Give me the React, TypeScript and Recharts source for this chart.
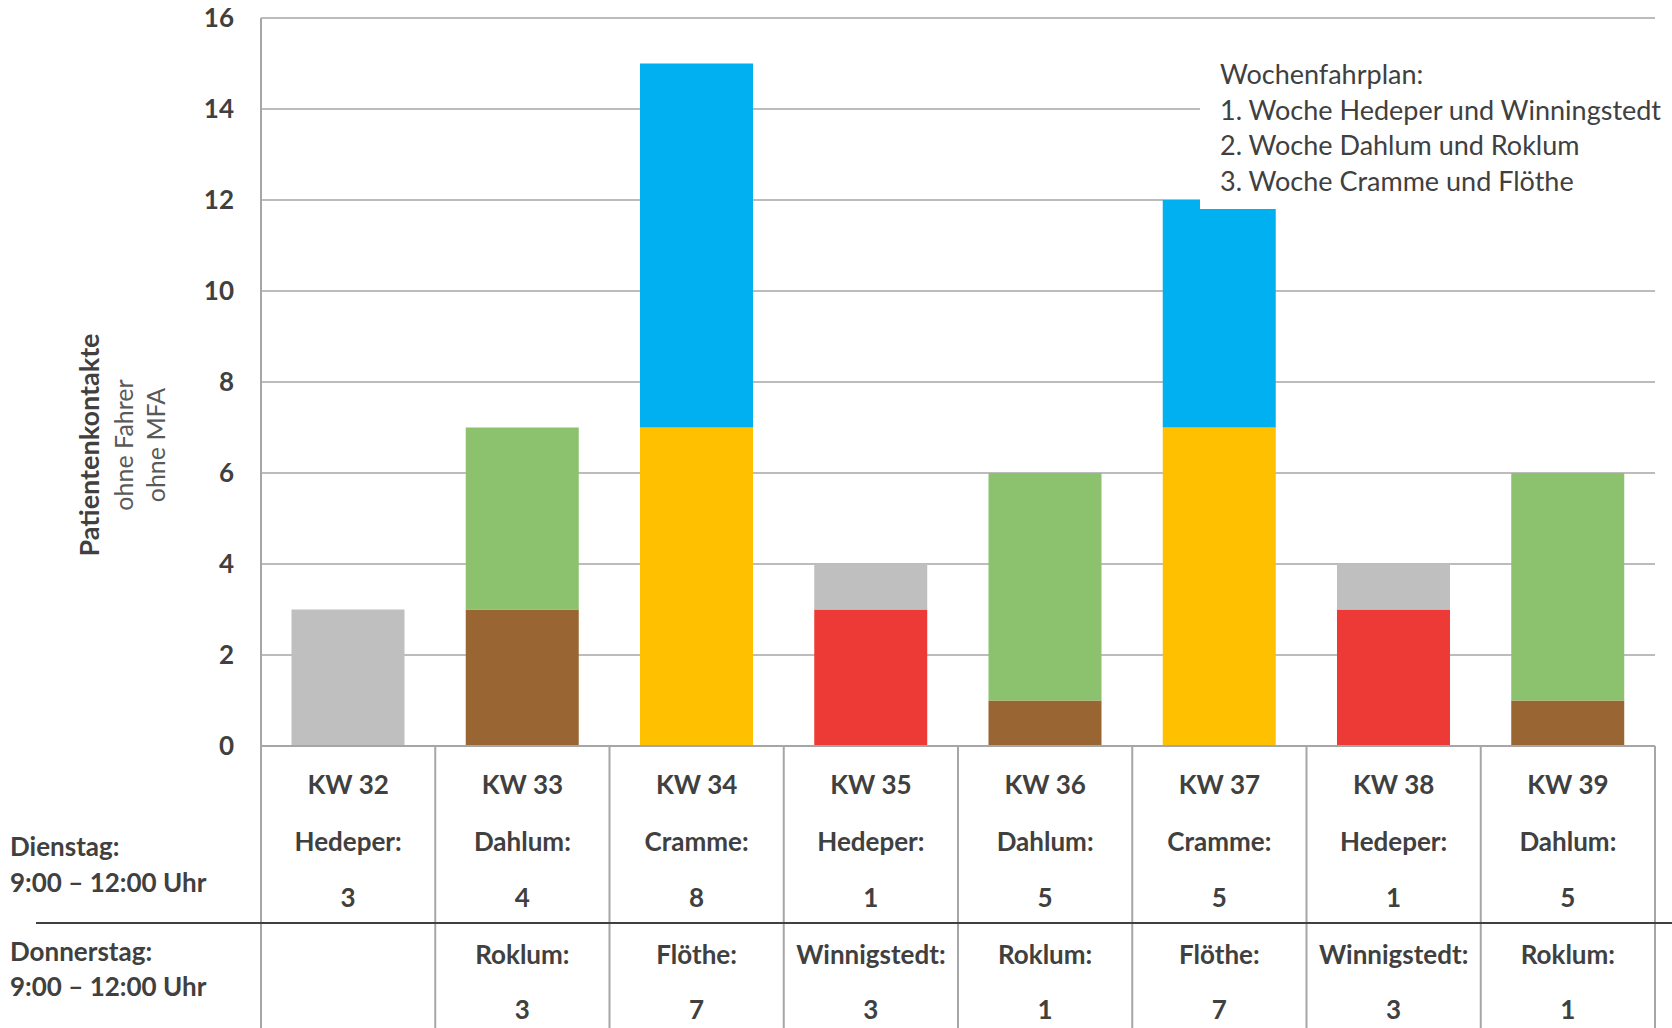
import { BarChart, Bar, XAxis, YAxis, CartesianGrid, Cell } from 'recharts'

const weeks = ['KW 32', 'KW 33', 'KW 34', 'KW 35', 'KW 36', 'KW 37', 'KW 38', 'KW 39']
const tuesdayTowns = ['Hedeper', 'Dahlum', 'Cramme', 'Hedeper', 'Dahlum', 'Cramme', 'Hedeper', 'Dahlum']
const tuesdayCounts = [3, 4, 8, 1, 5, 5, 1, 5]
const thursdayTowns = ['', 'Roklum', 'Flöthe', 'Winnigstedt', 'Roklum', 'Flöthe', 'Winnigstedt', 'Roklum']
const thursdayCounts = [0, 3, 7, 3, 1, 7, 3, 1]
const yTicks = [0, 2, 4, 6, 8, 10, 12, 14, 16]
const planLines = [
  'Wochenfahrplan:',
  '1. Woche Hedeper und Winningstedt',
  '2. Woche Dahlum und Roklum',
  '3. Woche Cramme und Flöthe',
]

const townColors: Record<string, string> = {
  Hedeper: '#BFBFBF',
  Winnigstedt: '#EE3A36',
  Dahlum: '#8CC26E',
  Roklum: '#996633',
  Cramme: '#00B0F0',
  Flöthe: '#FFC000',
}

const W = 1672
const H = 1028
const MARGIN = { top: 18, right: 17, left: 0, bottom: 0 }
const Y_AXIS_W = 261
const X_AXIS_H = 282
const BAND = (W - Y_AXIS_W - MARGIN.right) / weeks.length
const GRID = '#A6A6A6'
const TEXT = '#404040'
const FONT = 'Lato, "Open Sans", sans-serif'

const data = weeks.map((week, i) => ({
  week,
  thursday: thursdayCounts[i],
  tuesday: tuesdayCounts[i],
}))

const bold = { fontFamily: FONT, fontWeight: 700, fontSize: 26, fill: TEXT }

// table cell under each bar: week, tuesday town/count, thursday town/count
function WeekCell(props: any) {
  const { x, y, payload } = props
  const i = payload.index ?? weeks.indexOf(payload.value)
  const half = BAND / 2
  return (
    <g>
      <line x1={x - half} x2={x - half} y1={y} y2={H} stroke={GRID} strokeWidth={2} />
      {i === weeks.length - 1 && (
        <line x1={x + half} x2={x + half} y1={y} y2={H} stroke={GRID} strokeWidth={2} />
      )}
      <text x={x} y={y + 48} textAnchor="middle" {...bold}>{weeks[i]}</text>
      <text x={x} y={y + 105} textAnchor="middle" {...bold}>{tuesdayTowns[i]}:</text>
      <text x={x} y={y + 161} textAnchor="middle" {...bold}>{tuesdayCounts[i]}</text>
      {thursdayTowns[i] && (
        <>
          <text x={x} y={y + 218} textAnchor="middle" {...bold}>{thursdayTowns[i]}:</text>
          <text x={x} y={y + 273} textAnchor="middle" {...bold}>{thursdayCounts[i]}</text>
        </>
      )}
    </g>
  )
}

export default function App() {
  return (
    <div style={{ position: 'absolute', left: 0, top: 0, width: W, height: H, background: '#fff' }}>
      <BarChart width={W} height={H} data={data} margin={MARGIN} barCategoryGap="17.5%">
        <CartesianGrid vertical={false} stroke={GRID} strokeWidth={1.5} />
        <XAxis
          dataKey="week"
          height={X_AXIS_H}
          interval={0}
          tickSize={0}
          tickMargin={0}
          tickLine={false}
          axisLine={{ stroke: GRID, strokeWidth: 2 }}
          tick={<WeekCell />}
        />
        <YAxis
          width={Y_AXIS_W}
          domain={[0, 16]}
          ticks={yTicks}
          interval={0}
          tickSize={0}
          tickMargin={27}
          tickLine={false}
          axisLine={{ stroke: GRID, strokeWidth: 2 }}
          tick={{ ...bold }}
        />
        <Bar dataKey="thursday" stackId="visits" isAnimationActive={false}>
          {data.map((_, i) => (
            <Cell key={i} fill={townColors[thursdayTowns[i]] ?? 'transparent'} />
          ))}
        </Bar>
        <Bar dataKey="tuesday" stackId="visits" isAnimationActive={false}>
          {data.map((_, i) => (
            <Cell key={i} fill={townColors[tuesdayTowns[i]]} />
          ))}
        </Bar>
      </BarChart>

      <svg
        width={W}
        height={H}
        style={{ position: 'absolute', left: 0, top: 0, pointerEvents: 'none' }}
      >
        {/* axis title */}
        <g transform="rotate(-90 88 445)">
          <text x={88} y={445} textAnchor="middle" dominantBaseline="central" {...bold} fontSize={27}>
            Patientenkontakte
          </text>
        </g>
        <g transform="rotate(-90 123 445)" fontFamily={FONT} fontSize={25} fill="#595959">
          <text x={123} y={445} textAnchor="middle" dominantBaseline="central">ohne Fahrer</text>
        </g>
        <g transform="rotate(-90 155 445)" fontFamily={FONT} fontSize={25} fill="#595959">
          <text x={155} y={445} textAnchor="middle" dominantBaseline="central">ohne MFA</text>
        </g>

        {/* row headers and divider */}
        <text x={10} y={856} {...bold}>Dienstag:</text>
        <text x={10} y={892} {...bold}>9:00 – 12:00 Uhr</text>
        <text x={10} y={961} {...bold}>Donnerstag:</text>
        <text x={10} y={996} {...bold}>9:00 – 12:00 Uhr</text>
        <line x1={36} x2={W} y1={923} y2={923} stroke={TEXT} strokeWidth={2} />

        {/* route plan note */}
        <rect x={1200} y={45} width={W - 1200} height={164} fill="#fff" />
        {planLines.map((line, i) => (
          <text
            key={i}
            x={1220}
            y={84 + i * 35.7}
            fontFamily={FONT}
            fontSize={27}
            fill={TEXT}
          >
            {line}
          </text>
        ))}
      </svg>
    </div>
  )
}
